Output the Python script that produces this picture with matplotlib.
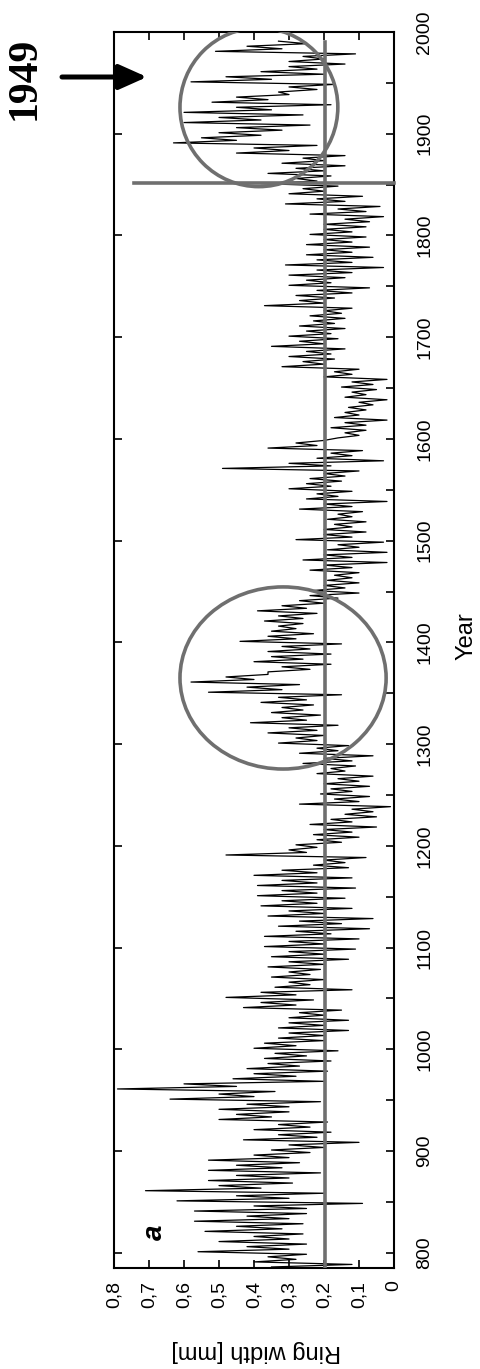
import numpy as np
import matplotlib
matplotlib.use('Agg')
import matplotlib.pyplot as plt
from matplotlib.patches import Ellipse
from matplotlib.ticker import MultipleLocator, FixedLocator

plt.rcParams['font.family'] = ['Liberation Sans', 'DejaVu Sans']

# decade start years; ring width [mm] per decade:
# extreme max / min and the edges of the dense core band
decades = np.arange(780, 2000, 10)
width_max = [0.42, 0.40, 0.56, 0.50, 0.54, 0.57, 0.57, 0.62, 0.71, 0.53,
             0.53, 0.53, 0.35, 0.43, 0.40, 0.50, 0.50, 0.64, 0.79, 0.46,
             0.42, 0.37, 0.40, 0.33, 0.33, 0.30, 0.43, 0.48, 0.34, 0.35,
             0.36, 0.35, 0.37, 0.37, 0.33, 0.36, 0.38, 0.39, 0.39, 0.40,
             0.23, 0.48, 0.28, 0.23, 0.24, 0.14, 0.27, 0.21, 0.20, 0.22,
             0.26, 0.27, 0.33, 0.36, 0.41, 0.35, 0.38, 0.53, 0.58, 0.36,
             0.40, 0.36, 0.44, 0.35, 0.37, 0.39, 0.27, 0.23, 0.19, 0.24,
             0.26, 0.19, 0.28, 0.20, 0.19, 0.27, 0.25, 0.30, 0.24, 0.49,
             0.22, 0.36, 0.16, 0.18, 0.17, 0.13, 0.14, 0.15, 0.20, 0.32,
             0.30, 0.35, 0.30, 0.27, 0.24, 0.37, 0.28, 0.30, 0.30, 0.31,
             0.25, 0.25, 0.24, 0.20, 0.24, 0.31, 0.30, 0.38, 0.36, 0.32,
             0.45, 0.63, 0.50, 0.60, 0.60, 0.52, 0.33, 0.58, 0.38, 0.30,
             0.51, 0.33]
width_min = [0.12, 0.25, 0.25, 0.26, 0.26, 0.25, 0.09, 0.20, 0.29, 0.21,
             0.27, 0.24, 0.10, 0.18, 0.19, 0.30, 0.21, 0.34, 0.20, 0.19,
             0.18, 0.16, 0.20, 0.13, 0.13, 0.15, 0.23, 0.12, 0.20, 0.21,
             0.13, 0.11, 0.10, 0.07, 0.06, 0.12, 0.14, 0.11, 0.12, 0.13,
             0.08, 0.22, 0.10, 0.05, 0.05, 0.01, 0.07, 0.07, 0.06, 0.11,
             0.06, 0.13, 0.20, 0.16, 0.21, 0.23, 0.15, 0.27, 0.36, 0.18,
             0.18, 0.15, 0.23, 0.26, 0.22, 0.20, 0.10, 0.10, 0.10, 0.02,
             0.02, 0.03, 0.08, 0.08, 0.09, 0.02, 0.12, 0.15, 0.10, 0.03,
             0.09, 0.20, 0.08, 0.02, 0.08, 0.02, 0.05, 0.02, 0.10, 0.17,
             0.14, 0.16, 0.14, 0.14, 0.12, 0.17, 0.07, 0.14, 0.03, 0.06,
             0.07, 0.08, 0.08, 0.03, 0.04, 0.09, 0.16, 0.18, 0.14, 0.14,
             0.22, 0.38, 0.24, 0.26, 0.18, 0.30, 0.17, 0.20, 0.14, 0.11,
             0.25, 0.29]
core_hi = [0.35, 0.36, 0.42, 0.40, 0.45, 0.42, 0.40, 0.45, 0.50, 0.45,
           0.45, 0.40, 0.30, 0.33, 0.33, 0.45, 0.42, 0.50, 0.60, 0.40,
           0.36, 0.34, 0.37, 0.30, 0.30, 0.27, 0.38, 0.38, 0.30, 0.30,
           0.30, 0.30, 0.30, 0.28, 0.27, 0.30, 0.32, 0.32, 0.32, 0.32,
           0.20, 0.30, 0.22, 0.20, 0.18, 0.12, 0.17, 0.18, 0.16, 0.18,
           0.20, 0.22, 0.28, 0.30, 0.32, 0.32, 0.33, 0.42, 0.48, 0.32,
           0.35, 0.32, 0.36, 0.33, 0.33, 0.32, 0.24, 0.20, 0.17, 0.20,
           0.20, 0.16, 0.20, 0.17, 0.16, 0.20, 0.22, 0.25, 0.20, 0.30,
           0.18, 0.28, 0.14, 0.14, 0.14, 0.10, 0.12, 0.12, 0.17, 0.26,
           0.25, 0.27, 0.25, 0.23, 0.20, 0.27, 0.22, 0.25, 0.22, 0.22,
           0.20, 0.20, 0.20, 0.14, 0.16, 0.22, 0.26, 0.28, 0.28, 0.26,
           0.40, 0.55, 0.45, 0.50, 0.45, 0.45, 0.30, 0.48, 0.30, 0.26,
           0.42, 0.32]
core_lo = [0.20, 0.28, 0.30, 0.30, 0.32, 0.30, 0.25, 0.30, 0.38, 0.30,
           0.32, 0.30, 0.20, 0.22, 0.24, 0.35, 0.30, 0.40, 0.45, 0.28,
           0.27, 0.25, 0.28, 0.20, 0.20, 0.20, 0.28, 0.28, 0.24, 0.24,
           0.20, 0.20, 0.20, 0.18, 0.15, 0.20, 0.22, 0.22, 0.22, 0.22,
           0.14, 0.25, 0.15, 0.12, 0.12, 0.06, 0.10, 0.12, 0.10, 0.14,
           0.12, 0.16, 0.22, 0.22, 0.25, 0.26, 0.25, 0.32, 0.40, 0.24,
           0.26, 0.24, 0.28, 0.28, 0.26, 0.25, 0.16, 0.14, 0.12, 0.12,
           0.12, 0.10, 0.12, 0.12, 0.12, 0.12, 0.16, 0.18, 0.14, 0.18,
           0.12, 0.22, 0.10, 0.08, 0.10, 0.06, 0.08, 0.06, 0.12, 0.20,
           0.18, 0.20, 0.18, 0.17, 0.15, 0.20, 0.12, 0.18, 0.12, 0.12,
           0.12, 0.12, 0.12, 0.07, 0.08, 0.14, 0.20, 0.22, 0.20, 0.20,
           0.30, 0.45, 0.32, 0.38, 0.35, 0.36, 0.22, 0.35, 0.22, 0.20,
           0.32, 0.30]

mean_width = 0.198
split_year = 1852
circle_1 = (0.386, 1926, 0.451, 156)   # centre x, centre y, width, height
circle_2 = (0.317, 1365, 0.589, 179)

x_ticks = [0.8, 0.7, 0.6, 0.5, 0.4, 0.3, 0.2, 0.1, 0]
x_labels = ['0,8', '0,7', '0,6', '0,5', '0,4', '0,3', '0,2', '0,1', '0']
year_ticks = list(range(800, 2001, 100))

# four readings per decade, in zig-zag order
years = np.column_stack([decades + 1, decades + 3.5, decades + 6, decades + 8.5]).ravel()
widths = np.column_stack([width_max, core_lo, core_hi, width_min]).ravel()
keep = (years >= 785) & (years <= 1993)
years, widths = years[keep], widths[keep]

W, H = 481, 1369
fig = plt.figure(figsize=(W / 100, H / 100), dpi=100)
ax = fig.add_axes([114 / W, 1 - 1268 / H, (394 - 114) / W, (1268 - 32) / H])

grey = '#6f6f6f'
ax.plot(widths, years, color='black', lw=0.9, zorder=2)
ax.plot([mean_width, mean_width], [785, 1990], color=grey, lw=2.6, zorder=3)
ax.plot([0, 0.743], [split_year, split_year], color=grey, lw=2.6, zorder=3, clip_on=False)
for cx, cy, w, h in (circle_1, circle_2):
    ax.add_patch(Ellipse((cx, cy), w, h, fill=False, ec=grey, lw=2.6, zorder=4))

ax.set_xlim(0.8, 0)
ax.set_ylim(785, 2000)

ax.xaxis.set_major_locator(FixedLocator(x_ticks))
ax.set_xticklabels(x_labels, rotation=90)
ax.yaxis.set_major_locator(FixedLocator(year_ticks))
ax.yaxis.set_minor_locator(MultipleLocator(50))
ax.set_yticklabels([str(y) for y in year_ticks], rotation=90, va='center')

ax.tick_params(which='both', direction='in', length=6, width=1.2, labelsize=14)
ax.tick_params(axis='x', top=True, bottom=True, pad=9)
ax.tick_params(axis='y', left=True, right=True, labelleft=False, labelright=True, pad=16)
ax.tick_params(axis='y', which='minor', left=False, right=True)
for s in ax.spines.values():
    s.set_linewidth(1.5)

fig.text(467 / W, 1 - 636 / H, 'Year', rotation=90, ha='center', va='center', fontsize=17)
fig.text(256 / W, 1 - 1351 / H, 'Ring width [mm]', rotation=180, ha='center', va='center', fontsize=17)
fig.text(155 / W, 1 - 1232 / H, 'a', rotation=90, ha='center', va='center', fontsize=20,
         fontweight='bold', fontstyle='italic')
fig.text(25 / W, 1 - 78 / H, '1949', rotation=90, ha='center', va='center', fontsize=30,
         fontweight='bold', family='Liberation Serif')

ax.annotate('', xy=(147 / W, 1 - 77 / H), xytext=(62 / W, 1 - 77 / H),
            xycoords='figure fraction', textcoords='figure fraction',
            arrowprops=dict(arrowstyle='-|>,head_length=1.7,head_width=0.76',
                            lw=3.6, color='black', shrinkA=0, shrinkB=0,
                            mutation_scale=10))

fig.savefig('out.png', dpi=100)
